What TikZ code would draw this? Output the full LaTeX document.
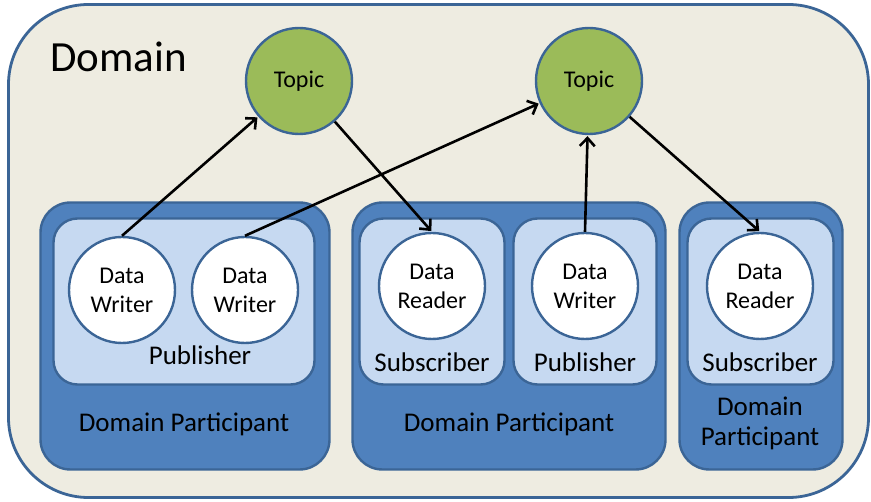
\documentclass[tikz,border=0pt]{standalone}
\usepackage{fontspec}
\setmainfont{Carlito}
\usetikzlibrary{arrows.meta}
\definecolor{bgdom}{HTML}{EEECE1}
\definecolor{edgeblue}{HTML}{3B6596}
\definecolor{partblue}{HTML}{4F81BD}
\definecolor{lightblue}{HTML}{C6D9F1}
\definecolor{topicgreen}{HTML}{9BBB59}
\tikzset{
  domainbox/.style={draw=edgeblue, fill=bgdom, line width=2.8pt, rounded corners=80pt, inner sep=0pt},
  partbox/.style={draw=edgeblue, fill=partblue, line width=2.4pt, rounded corners=30pt, inner sep=0pt},
  entbox/.style={draw=edgeblue, fill=lightblue, line width=2.4pt, rounded corners=24pt, inner sep=0pt},
  ent/.style={circle, draw=edgeblue, fill=white, line width=2.4pt, minimum size=106pt, inner sep=0pt, align=center, font=\fontsize{24}{29}\selectfont},
  topicnode/.style={circle, draw=edgeblue, fill=topicgreen, line width=2.4pt, minimum size=106pt, inner sep=0pt, font=\fontsize{24}{26}\selectfont},
  lbl/.style={inner sep=0pt, align=center, font=\fontsize{27}{30}\selectfont},
  flow/.style={-{Straight Barb[length=8pt,width=15pt,line width=2.6pt]}, line width=2.6pt, black, shorten >=1pt}
}
\begin{document}
\begin{tikzpicture}[x=1pt,y=-1pt]
\useasboundingbox (0,0) rectangle (871,502);
% domain
\node[domainbox, minimum width=860pt, minimum height=493pt] (domain) at (438.5,251) {};
\node[anchor=base west, inner sep=0pt, font=\fontsize{43}{48}\selectfont] (domlbl) at (50,72) {Domain};
% participants
\node[partbox, minimum width=289pt, minimum height=267pt] (dp1) at (185,336) {};
\node[partbox, minimum width=313pt, minimum height=267pt] (dp2) at (509,336) {};
\node[partbox, minimum width=163pt, minimum height=267pt] (dp3) at (761,336) {};
% publishers / subscribers
\node[entbox, minimum width=261pt, minimum height=166pt] (pub1) at (184,301.5) {};
\node[entbox, minimum width=145pt, minimum height=166pt] (sub1) at (432,301.5) {};
\node[entbox, minimum width=143pt, minimum height=166pt] (pub2) at (585,301.5) {};
\node[entbox, minimum width=146pt, minimum height=166pt] (sub2) at (760.5,301.5) {};
% labels
\node[lbl] (pub1lbl) at (200,355) {Publisher};
\node[lbl] (sub1lbl) at (432,362) {Subscriber};
\node[lbl] (pub2lbl) at (585,362) {Publisher};
\node[lbl] (sub2lbl) at (760,362) {Subscriber};
\node[lbl] (dp1lbl) at (184,424) {Domain Participant};
\node[lbl] (dp2lbl) at (509,424) {Domain Participant};
\node[lbl] (dp3lbl) at (760,423) {Domain\\Participant};
% entities
\node[ent] (dw1) at (122,290) {Data\\Writer};
\node[ent] (dw2) at (245,290) {Data\\Writer};
\node[ent] (dr1) at (432,286) {Data\\Reader};
\node[ent] (dw3) at (585,286) {Data\\Writer};
\node[ent] (dr2) at (760,286) {Data\\Reader};
% topics
\node[topicnode] (t1) at (299,81) {Topic};
\node[topicnode] (t2) at (589,81) {Topic};
% connectors
\draw[flow] (dw1.north) -- (t1);
\draw[flow] (dw2.north) -- (t2);
\draw[flow] (t1) -- (dr1.north);
\draw[flow] (dw3.north) -- (t2);
\draw[flow] (t2) -- (dr2.north);
\end{tikzpicture}
\end{document}
